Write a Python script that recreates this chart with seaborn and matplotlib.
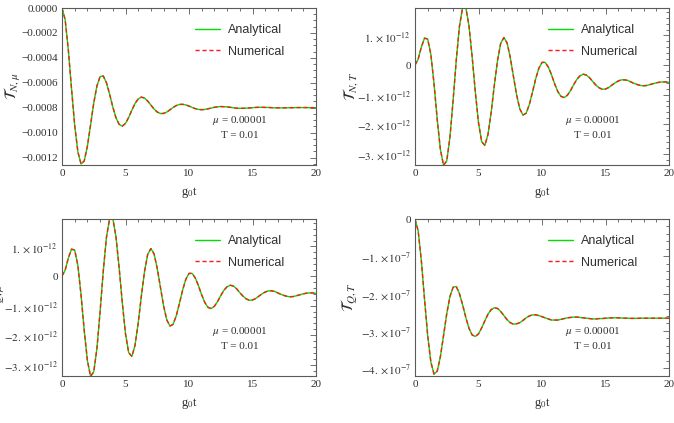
import numpy as np
import pandas as pd
import matplotlib
matplotlib.use("Agg")
import matplotlib.pyplot as plt
import seaborn as sns
from matplotlib.ticker import MultipleLocator, FuncFormatter

# ---------------- data ----------------
g0t = np.linspace(0, 20, 81)  # sampling grid, step 0.25

# T_{N,mu}  in units of 1e-4
T_N_mu = [0.00, -0.95, -3.38, -6.48, -9.42, -11.55, -12.52, -12.28, -11.09, -9.38,
          -7.63, -6.25, -5.50, -5.46, -6.00, -6.92, -7.94, -8.81, -9.34, -9.48,
          -9.26, -8.78, -8.20, -7.66, -7.30, -7.15, -7.23, -7.47, -7.79, -8.11,
          -8.35, -8.47, -8.46, -8.35, -8.17, -7.98, -7.83, -7.74, -7.73, -7.78,
          -7.87, -7.98, -8.08, -8.14, -8.16, -8.14, -8.09, -8.03, -7.97, -7.93,
          -7.91, -7.92, -7.94, -7.97, -8.01, -8.04, -8.05, -8.05, -8.04, -8.02,
          -8.00, -7.98, -7.97, -7.97, -7.98, -7.98, -8.00, -8.01, -8.01, -8.02,
          -8.01, -8.01, -8.00, -8.00, -7.99, -7.99, -7.99, -7.99, -8.00, -8.00,
          -8.00]

# T_{N,T}  in units of 1e-12
T_N_T = [0.00, 0.20, 0.61, 0.91, 0.88, 0.36, -0.64, -1.84, -2.86, -3.39,
         -3.24, -2.45, -1.20, 0.17, 1.31, 1.95, 1.95, 1.33, 0.28, -0.91,
         -1.95, -2.59, -2.72, -2.34, -1.59, -0.67, 0.16, 0.74, 0.93, 0.75,
         0.26, -0.38, -1.01, -1.48, -1.69, -1.63, -1.34, -0.92, -0.47, -0.11,
         0.09, 0.09, -0.07, -0.33, -0.64, -0.90, -1.06, -1.10, -1.02, -0.86,
         -0.66, -0.48, -0.36, -0.31, -0.34, -0.43, -0.56, -0.68, -0.77, -0.82,
         -0.81, -0.76, -0.68, -0.60, -0.54, -0.50, -0.50, -0.52, -0.57, -0.62,
         -0.66, -0.69, -0.70, -0.69, -0.66, -0.63, -0.60, -0.58, -0.57, -0.57,
         -0.59]

# T_{Q,mu}  in units of 1e-12
T_Q_mu = [0.00, 0.20, 0.61, 0.91, 0.88, 0.36, -0.64, -1.84, -2.86, -3.39,
          -3.24, -2.45, -1.20, 0.17, 1.31, 1.95, 1.95, 1.33, 0.28, -0.91,
          -1.95, -2.59, -2.72, -2.34, -1.59, -0.67, 0.16, 0.74, 0.93, 0.75,
          0.26, -0.38, -1.01, -1.48, -1.69, -1.63, -1.34, -0.92, -0.47, -0.11,
          0.09, 0.09, -0.07, -0.33, -0.64, -0.90, -1.06, -1.10, -1.02, -0.86,
          -0.66, -0.48, -0.36, -0.31, -0.34, -0.43, -0.56, -0.68, -0.77, -0.82,
          -0.81, -0.76, -0.68, -0.60, -0.54, -0.50, -0.50, -0.52, -0.57, -0.62,
          -0.66, -0.69, -0.70, -0.69, -0.66, -0.63, -0.60, -0.58, -0.57, -0.57,
          -0.59]

# T_{Q,T}  in units of 1e-7
T_Q_T = [0.00, -0.32, -1.12, -2.15, -3.13, -3.84, -4.16, -4.08, -3.69, -3.12,
         -2.54, -2.08, -1.83, -1.81, -2.00, -2.30, -2.64, -2.93, -3.11, -3.15,
         -3.08, -2.92, -2.73, -2.55, -2.43, -2.38, -2.40, -2.48, -2.59, -2.70,
         -2.78, -2.82, -2.81, -2.78, -2.72, -2.65, -2.60, -2.57, -2.57, -2.59,
         -2.62, -2.65, -2.68, -2.71, -2.71, -2.71, -2.69, -2.67, -2.65, -2.64,
         -2.63, -2.63, -2.64, -2.65, -2.66, -2.67, -2.68, -2.68, -2.67, -2.67,
         -2.66, -2.655, -2.65, -2.65, -2.65, -2.655, -2.66, -2.66, -2.665, -2.665,
         -2.665, -2.66, -2.66, -2.66, -2.66, -2.66, -2.66, -2.66, -2.66, -2.66,
         -2.66]

series_names = ["Analytical", "Numerical"]
params_text = [r"$\mu$ = 0.00001", "T = 0.01"]

# ---------------- styling ----------------
sns.set_theme(style="white")
plt.rcParams['font.family'] = ['Liberation Serif', 'DejaVu Serif']
plt.rcParams['mathtext.fontset'] = 'stix'

FRAME = "#5a5a5a"
TXT = "#303030"
GREEN = "#00e000"
RED = "#ff1a1a"

fig = plt.figure(figsize=(6.74, 4.23), dpi=100)
W, H = 674.0, 423.0


def add_ax(left, top, right, bottom):
    return fig.add_axes([left / W, 1 - bottom / H, (right - left) / W, (bottom - top) / H])


def sci_formatter(exp):
    def f(v, pos):
        n = int(round(v / 10.0 ** exp))
        if n == 0:
            return "0"
        return r"$%d.\times 10^{%d}$" % (n, exp)
    return FuncFormatter(f)


dec_formatter = FuncFormatter(lambda v, p: ("%.4f" % v).replace("-", "\u2212") if abs(v) > 1e-12 else "0.0000")

panels = [
    # values, scale, ylim, major, minor, formatter, ylabel, box, ylabel_x
    (T_N_mu, 1e-4, (-0.00126, 0.0), 0.0002, 0.00005, dec_formatter,
     r"$\mathcal{T}_{N,\mu}$", (62, 8, 316, 165), -0.155),
    (T_N_T, 1e-12, (-3.38e-12, 1.93e-12), 1e-12, 0.2e-12, sci_formatter(-12),
     r"$\mathcal{T}_{N,T}$", (415, 8, 669, 165), -0.215),
    (T_Q_mu, 1e-12, (-3.38e-12, 1.93e-12), 1e-12, 0.2e-12, sci_formatter(-12),
     r"$\mathcal{T}_{Q,\mu}$", (62, 219, 316, 376), -0.215),
    (T_Q_T, 1e-7, (-4.21e-7, 0.0), 1e-7, 0.2e-7, sci_formatter(-7),
     r"$\mathcal{T}_{Q,T}$", (415, 219, 669, 376), -0.215),
]

for vals, scale, ylim, major, minor, fmt, ylab, box, ylx in panels:
    ax = add_ax(*box)
    y = np.array(vals) * scale
    df = pd.DataFrame({"t": g0t, "Analytical": y, "Numerical": y})
    sns.lineplot(data=df, x="t", y="Analytical", ax=ax, color=GREEN,
                 linewidth=1.0, label=series_names[0])
    sns.lineplot(data=df, x="t", y="Numerical", ax=ax, color=RED,
                 linewidth=1.0, linestyle=(0, (3.0, 2.0)), label=series_names[1])

    ax.set_xlim(0, 20)
    ax.set_ylim(*ylim)
    ax.xaxis.set_major_locator(MultipleLocator(5))
    ax.xaxis.set_minor_locator(MultipleLocator(1))
    ax.yaxis.set_major_locator(MultipleLocator(major))
    ax.yaxis.set_minor_locator(MultipleLocator(minor))
    ax.yaxis.set_major_formatter(fmt)
    ax.xaxis.set_major_formatter(FuncFormatter(lambda v, p: "%d" % v))

    ax.tick_params(which="both", direction="in", top=True, right=True,
                   color=FRAME, labelcolor=TXT, labelsize=8, width=0.6)
    ax.tick_params(which="major", length=4, pad=3)
    ax.tick_params(which="minor", length=2)
    for s in ax.spines.values():
        s.set_color(FRAME)
        s.set_linewidth(0.8)

    ax.set_xlabel(r"g$_0$t", fontsize=9, color=TXT, labelpad=5)
    ax.set_ylabel(ylab, fontsize=11.5, color=TXT)
    ax.yaxis.set_label_coords(ylx, 0.5)

    ax.text(0.70, 0.285, params_text[0], transform=ax.transAxes, ha="center",
            va="center", fontsize=8, color=TXT)
    ax.text(0.70, 0.185, params_text[1], transform=ax.transAxes, ha="center",
            va="center", fontsize=8, color=TXT)

    leg = ax.legend(loc="upper left", bbox_to_anchor=(0.524, 0.896), frameon=False,
                    borderaxespad=0, borderpad=0, handlelength=2.0,
                    handletextpad=0.6, labelspacing=0.76,
                    prop={"family": "Liberation Sans", "size": 9})
    for t in leg.get_texts():
        t.set_color(TXT)

fig.savefig("out.png", dpi=100)
